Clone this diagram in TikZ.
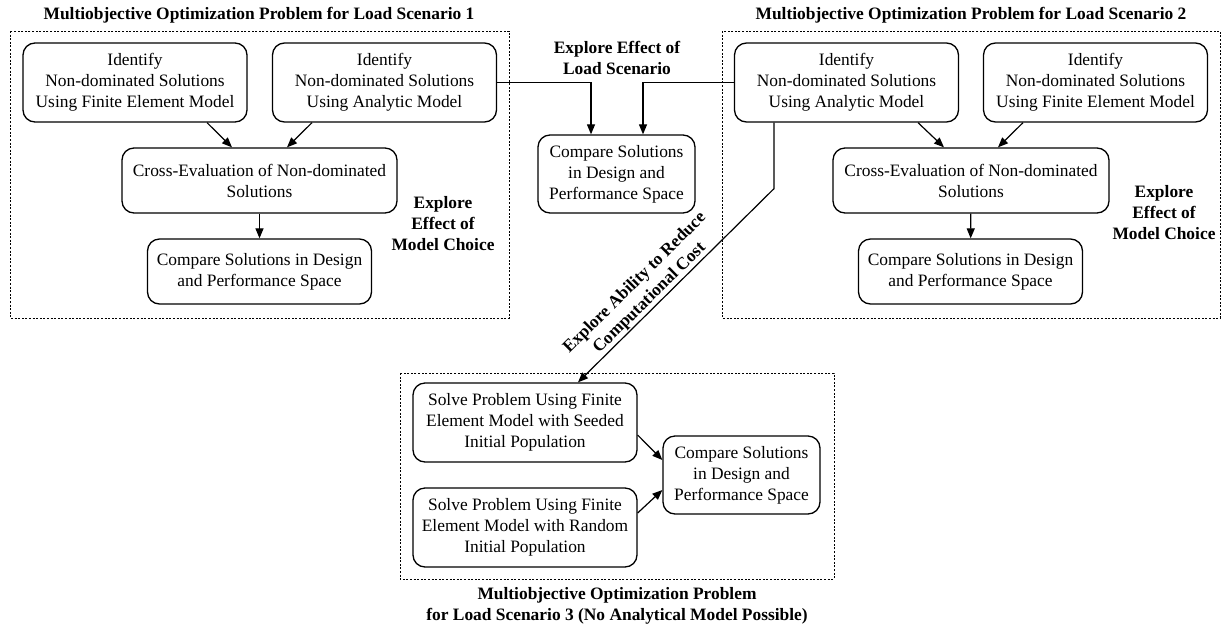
\documentclass[tikz,border=0pt]{standalone}
\usepackage{fontspec}
\setmainfont{Liberation Serif}
\usetikzlibrary{arrows.meta, positioning}
\newcommand{\figfont}{\fontsize{17.4}{21}\selectfont}
\tikzset{box/.style={rectangle,draw,rounded corners=12pt,align=center,inner sep=0pt,line width=1.3pt,minimum width=224pt,minimum height=79pt},
  line/.style={-{Triangle[length=10pt,width=8pt]},line width=1.2pt},
  frame/.style={draw,dash pattern=on 2pt off 1.6pt,line width=1pt},
  tag/.style={align=center,font=\figfont\bfseries}}

\begin{document}
\begin{tikzpicture}[x=1pt,y=1pt,font=\figfont]
\useasboundingbox (0,0) rectangle (1221,-630);
% scenario 1
\draw[frame] (10,-31) rectangle (509,-318);
\node[tag] (t1) at (259,-15) {Multiobjective Optimization Problem for Load Scenario 1};
\node[box] (a1) at (135,-82.5) {Identify\\Non-dominated Solutions\\Using Finite Element Model};
\node[box] (a2) at (384.5,-82.5) {Identify\\Non-dominated Solutions\\Using Analytic Model};
\node[box, minimum width=275pt, minimum height=65pt] (a3) at (259.5,-180.5) {Cross-Evaluation of Non-dominated\\Solutions};
\node[box, minimum height=65pt] (a4) at (259.5,-271.5) {Compare Solutions in Design\\and Performance Space};
\node[tag] (m1) at (443,-224) {Explore\\Effect of\\Model Choice};
\draw[line] ([xshift=72pt]a1.south) -- ([xshift=-27.5pt]a3.north);
\draw[line] ([xshift=-72.5pt]a2.south) -- ([xshift=27.5pt]a3.north);
\draw[line] (a3) -- (a4);
% scenario 2
\draw[frame] (722,-31) rectangle (1220,-318);
\node[tag] (t2) at (971,-15) {Multiobjective Optimization Problem for Load Scenario 2};
\node[box] (b1) at (846.5,-82.5) {Identify\\Non-dominated Solutions\\Using Analytic Model};
\node[box] (b2) at (1095.5,-82.5) {Identify\\Non-dominated Solutions\\Using Finite Element Model};
\node[box, minimum width=276pt, minimum height=65pt] (b3) at (971,-180.5) {Cross-Evaluation of Non-dominated\\Solutions};
\node[box, minimum height=65pt] (b4) at (970.5,-271.5) {Compare Solutions in Design\\and Performance Space};
\node[tag] (m2) at (1164,-213) {Explore\\Effect of\\Model Choice};
\draw[line] ([xshift=71.5pt]b1.south) -- ([xshift=-27pt]b3.north);
\draw[line] ([xshift=-72.5pt]b2.south) -- ([xshift=27pt]b3.north);
\draw[line] (b3) -- (b4);
% load scenario comparison
\node[tag] (ls) at (617,-58) {Explore Effect of\\Load Scenario};
\node[box, minimum width=157pt, minimum height=78pt] (mc) at (616.5,-174) {Compare Solutions\\in Design and\\Performance Space};
\draw[line] (a2.east) -| ([xshift=-25.5pt]mc.north);
\draw[line] (b1.west) -| ([xshift=26.5pt]mc.north);
% scenario 3
\draw[frame] (400,-373) rectangle (834,-579);
\node[box] (c1) at (525,-422.5) {Solve Problem Using Finite\\Element Model with Seeded\\Initial Population};
\node[box] (c2) at (525,-527.5) {Solve Problem Using Finite\\Element Model with Random\\Initial Population};
\node[box, minimum width=157pt, minimum height=78pt] (c3) at (741.5,-475) {Compare Solutions\\in Design and\\Performance Space};
\node[tag] (t3) at (617,-606) {Multiobjective Optimization Problem\\for Load Scenario 3 (No Analytical Model Possible)};
\draw[line] ([yshift=-12.5pt]c1.east) -- ([yshift=15pt]c3.west);
\draw[line] ([yshift=14.5pt]c2.east) -- ([yshift=-15pt]c3.west);
\draw[line] ([xshift=-72.5pt]b1.south) -- ++(0,-66)
  -- node[sloped, above, pos=0.6, tag, inner sep=1pt] {Explore Ability to Reduce\\Computational Cost} ([xshift=53pt]c1.north);
\end{tikzpicture}
\end{document}
